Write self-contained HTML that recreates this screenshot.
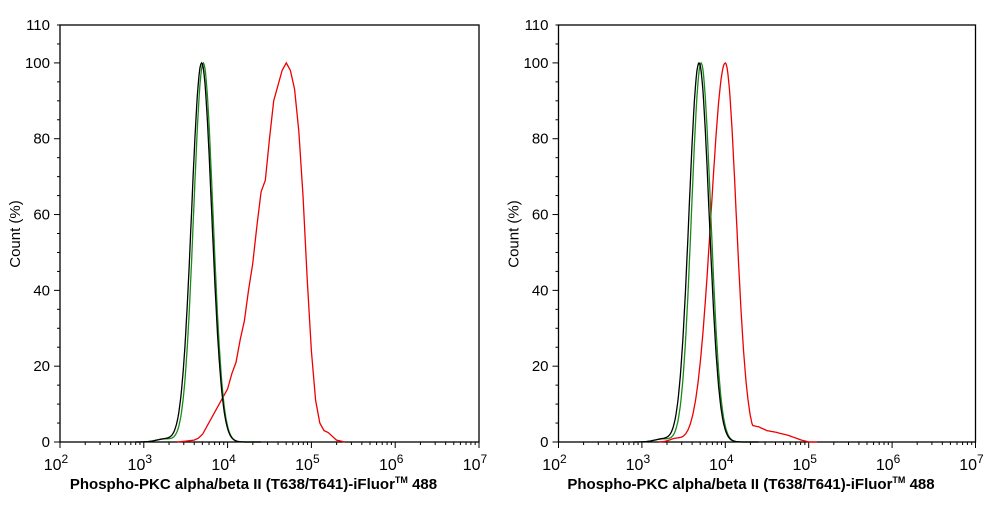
<!DOCTYPE html>
<html><head><meta charset="utf-8"><style>
body{margin:0;background:#fff;}
svg text{font-family:"Liberation Sans",Arial,sans-serif;}
</style></head><body>
<svg id="s" width="994" height="501" xmlns="http://www.w3.org/2000/svg"></svg>
<script>
const s=document.getElementById('s');let h='';
function gauss(mu,sig){const a=[];for(let l=2.9;l<=4.4;l+=0.01){let v=100*Math.exp(-Math.pow(l-mu,2)/(2*sig*sig));if(l<mu)v+=0.8*Math.exp(-Math.pow(l-3.25,2)/0.02);a.push([l,v]);}return a;}
function plot(x0,dec){
 const y0=442,u=(442-25)/110,x1=x0+5*dec;
 const X=l=>x0+(l-2)*dec,Y=v=>y0-v*u;
 h+=`<rect x="${x0}" y="25" width="${x1-x0}" height="417" fill="none" stroke="#000" stroke-width="1.3"/>`;
 for(let i=0;i<=110;i+=5){const y=Y(i);h+=`<line x1="${x0}" x2="${x0-(i%20==0?6:3)}" y1="${y}" y2="${y}" stroke="#000"/>`;if(i%20==0||i==110)h+=`<text x="${x0-10}" y="${y+5}" font-size="15" text-anchor="end">${i}</text>`;}
 for(let d=2;d<=7;d++){const x=X(d);h+=`<line x1="${x}" x2="${x}" y1="${y0}" y2="${y0+6}" stroke="#000"/>`;
  h+=`<text x="${x-4}" y="${y0+28}" font-size="16" text-anchor="middle">10<tspan font-size="12" dy="-7">${d}</tspan></text>`;
  if(d<7)for(let k=2;k<10;k++){const xx=X(d+Math.log10(k));h+=`<line x1="${xx}" x2="${xx}" y1="${y0}" y2="${y0+3}" stroke="#000"/>`;}}
 h+=`<text x="${(x0+x1)/2-16}" y="489" font-size="15" font-weight="bold" text-anchor="middle">Phospho-PKC alpha/beta II (T638/T641)-iFluor<tspan font-size="9" dy="-6">TM</tspan><tspan dy="6"> 488</tspan></text>`;
 h+=`<text transform="translate(${x0-40},234) rotate(-90)" font-size="15" text-anchor="middle">Count  (%)</text>`;
 return (pts,c)=>{h+=`<polyline fill="none" stroke="${c}" stroke-width="1.3" points="${pts.map(p=>X(p[0]).toFixed(1)+','+Y(p[1]).toFixed(1)).join(' ')}"/>`;};
}
let p=plot(60,83.8);
p([[3.4,0],[3.5,0.2],[3.6,0.5],[3.65,1],[3.7,2],[3.8,6],[3.9,10],[3.95,12],[4.0,14],[4.05,18],[4.1,21],[4.15,27],[4.2,32],[4.25,40],[4.3,47],[4.35,57],[4.4,66],[4.45,69],[4.5,80],[4.55,90],[4.6,94],[4.65,98],[4.7,100],[4.75,98],[4.8,93],[4.85,82],[4.9,65],[4.95,43],[5.0,24],[5.05,11],[5.1,5],[5.15,3],[5.2,2.5],[5.25,1.5],[5.3,0.5],[5.4,0]],'#e00');
p(gauss(3.71,0.115),'#1a8a1a');p(gauss(3.69,0.12),'#000');
p=plot(558.5,83.4);
const tail=[[4.2,0],[4.3,4.5],[4.4,4],[4.5,3],[4.6,2.6],[4.75,1.8],[4.9,0.6],[5.0,0]];
function tv(l){if(l<=4.2||l>=5)return 0;for(let i=0;i<tail.length-1;i++){if(l>=tail[i][0]&&l<=tail[i+1][0]){const t=(l-tail[i][0])/(tail[i+1][0]-tail[i][0]);return tail[i][1]+t*(tail[i+1][1]-tail[i][1]);}}return 0;}
const r=[];for(let l=3.2;l<=5.1;l+=0.01){let sg=l<4?0.17:0.13;let v=100*Math.exp(-Math.pow(l-4.0,2)/(2*sg*sg));v=Math.max(v,tv(l));if(l<3.6)v+=0.8*Math.exp(-Math.pow(l-3.4,2)/0.01);r.push([l,v]);}
p(r,'#e00');p(gauss(3.71,0.115),'#1a8a1a');p(gauss(3.685,0.12),'#000');
s.innerHTML=h;
</script>
</body></html>
